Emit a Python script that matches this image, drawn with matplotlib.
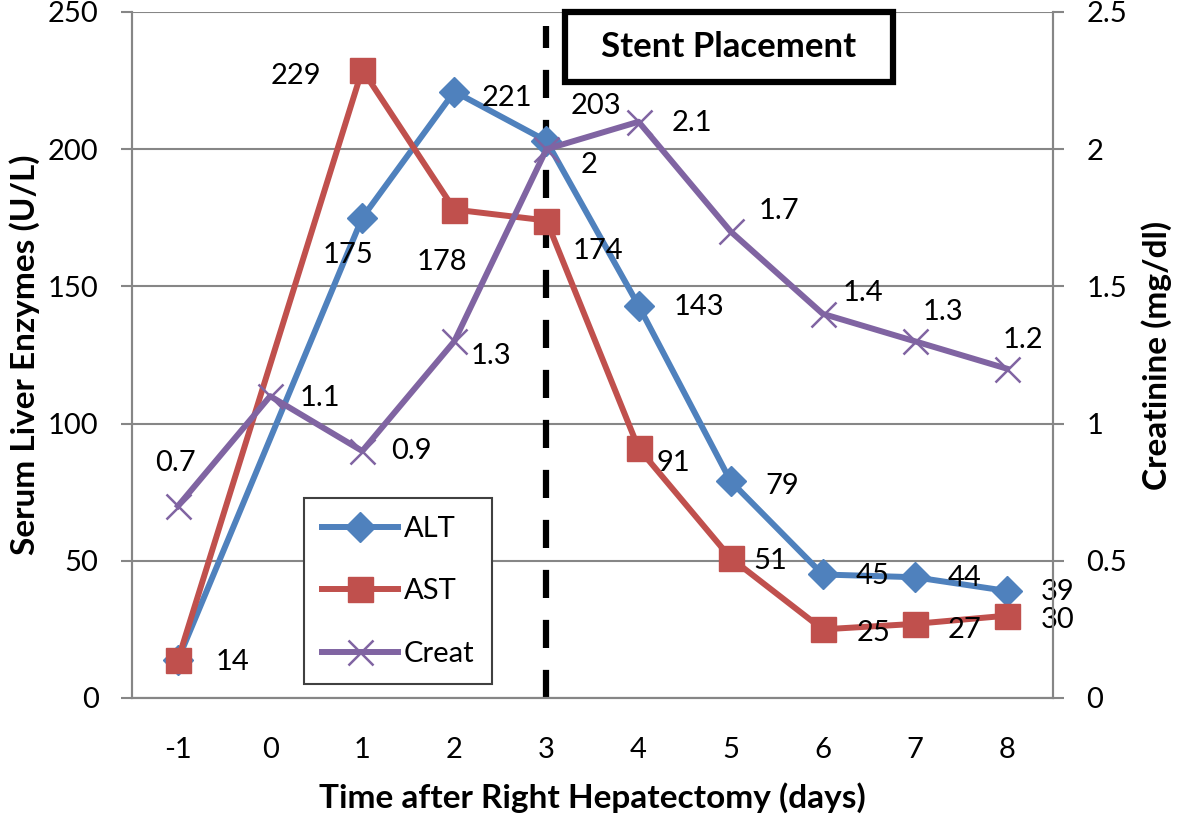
import matplotlib.pyplot as plt
from matplotlib.patches import Rectangle

plt.rcParams["font.family"] = ["Lato", "DejaVu Sans"]
plt.rcParams["axes.unicode_minus"] = False

# Messwerte (Tag 0: keine Leberwerte)
days_enz = [-1, 1, 2, 3, 4, 5, 6, 7, 8]
alt = [14, 175, 221, 203, 143, 79, 45, 44, 39]
ast = [14, 229, 178, 174, 91, 51, 25, 27, 30]
days_creat = [-1, 0, 1, 2, 3, 4, 5, 6, 7, 8]
creat = [0.7, 1.1, 0.9, 1.3, 2.0, 2.1, 1.7, 1.4, 1.3, 1.2]

alt_labels = [None, "175", "221", "203", "143", "79", "45", "44", "39"]
ast_labels = ["14", "229", "178", "174", "91", "51", "25", "27", "30"]
creat_labels = ["0.7", "1.1", "0.9", "1.3", "2", "2.1", "1.7", "1.4", "1.3", "1.2"]

# Versatz der Beschriftungen in Pixeln
alt_off = [(0, 0), (-14, -37), (53, -6), (49, 35), (60, -1), (52, -5), (50, -2), (50, -1), (51, -1)]
ast_off = [(54, -2), (-66, -6), (-12, -52), (51, -30), (35, -15), (40, -3), (51, -4), (50, -6), (51, -4)]
creat_off = [(-3, 43), (50, -2), (49, 0), (37, -15), (43, -16), (53, -1), (48, 20), (40, 21), (28, 29), (16, 29)]

c_alt = "#4F81BD"
c_ast = "#C0504D"
c_creat = "#8064A2"
grey = "#868686"
fs = 21
fs_title = 24

fig = plt.figure(figsize=(11.81, 8.15), dpi=100)
ax = fig.add_axes([0.1118, 0.1436, 0.7798, 0.8417])
ax2 = ax.twinx()

ax.set_xlim(-1.5, 8.5)
ax.set_ylim(0, 250)
ax2.set_ylim(0, 2.5)
ax.set_yticks(range(0, 251, 50))
ax2.set_yticks([0, 0.5, 1, 1.5, 2, 2.5])
ax2.set_yticklabels(["0", "0.5", "1", "1.5", "2", "2.5"])
ax.set_xticks(range(-1, 9))

ax.grid(axis="y", color=grey, linewidth=1.5)
ax.set_axisbelow(True)
for a in (ax, ax2):
    a.spines["top"].set_visible(False)
    for s in ("left", "right", "bottom"):
        a.spines[s].set_color(grey)
        a.spines[s].set_linewidth(1.5)
ax.tick_params(axis="y", labelsize=fs, length=8, width=1.5, color=grey, pad=16)
ax.tick_params(axis="x", labelsize=fs, length=0, pad=28)
ax2.tick_params(axis="y", labelsize=fs, length=8, width=1.5, color=grey, pad=16)

ax.axvline(3, ymax=0.98, color="black", linewidth=4.5, dashes=(4.5, 3.5), zorder=2.5)

l1, = ax.plot(days_enz, alt, color=c_alt, linewidth=4.3, marker="D", markersize=15, label="ALT", zorder=3)
l2, = ax.plot(days_enz, ast, color=c_ast, linewidth=4.3, marker="s", markersize=18, label="AST", zorder=3)
l3, = ax2.plot(days_creat, creat, color=c_creat, linewidth=4.3, marker="x", markersize=18,
               markeredgewidth=1.8, label="Creat", zorder=3)

for x, y, t, o in zip(days_enz, alt, alt_labels, alt_off):
    if t:
        ax.annotate(t, (x, y), xytext=o, textcoords="offset pixels", ha="center", va="center", fontsize=fs)
for x, y, t, o in zip(days_enz, ast, ast_labels, ast_off):
    ax.annotate(t, (x, y), xytext=o, textcoords="offset pixels", ha="center", va="center", fontsize=fs)
for x, y, t, o in zip(days_creat, creat, creat_labels, creat_off):
    ax2.annotate(t, (x, y), xytext=o, textcoords="offset pixels", ha="center", va="center", fontsize=fs)

ax.set_xlabel("Time after Right Hepatectomy (days)", fontsize=fs_title, fontweight="bold", labelpad=14)
ax.set_ylabel("Serum Liver Enzymes (U/L)", fontsize=fs_title, fontweight="bold", labelpad=6)
ax2.set_ylabel("Creatinine (mg/dl)", fontsize=fs_title, fontweight="bold", labelpad=10)

# Stent-Kasten oben
ax2.add_patch(Rectangle((0.470, 0.898), 0.356, 0.102, transform=ax.transAxes, facecolor="white",
                        edgecolor="black", linewidth=4.5, zorder=5, clip_on=False))
ax2.text(0.648, 0.949, "Stent Placement", transform=ax.transAxes, ha="center", va="center",
         fontsize=25, fontweight="bold", zorder=6)

leg = ax2.legend([l1, l2, l3], ["ALT", "AST", "Creat"], loc="lower left",
                 bbox_to_anchor=(0.187, 0.02), borderaxespad=0, fontsize=fs, handlelength=2.6,
                 handletextpad=0.2, labelspacing=1.25, borderpad=0.6, fancybox=False, framealpha=1)
leg.get_frame().set_edgecolor("#404040")
leg.get_frame().set_linewidth(1.5)
leg.set_zorder(7)

fig.savefig("out.png", dpi=100)
